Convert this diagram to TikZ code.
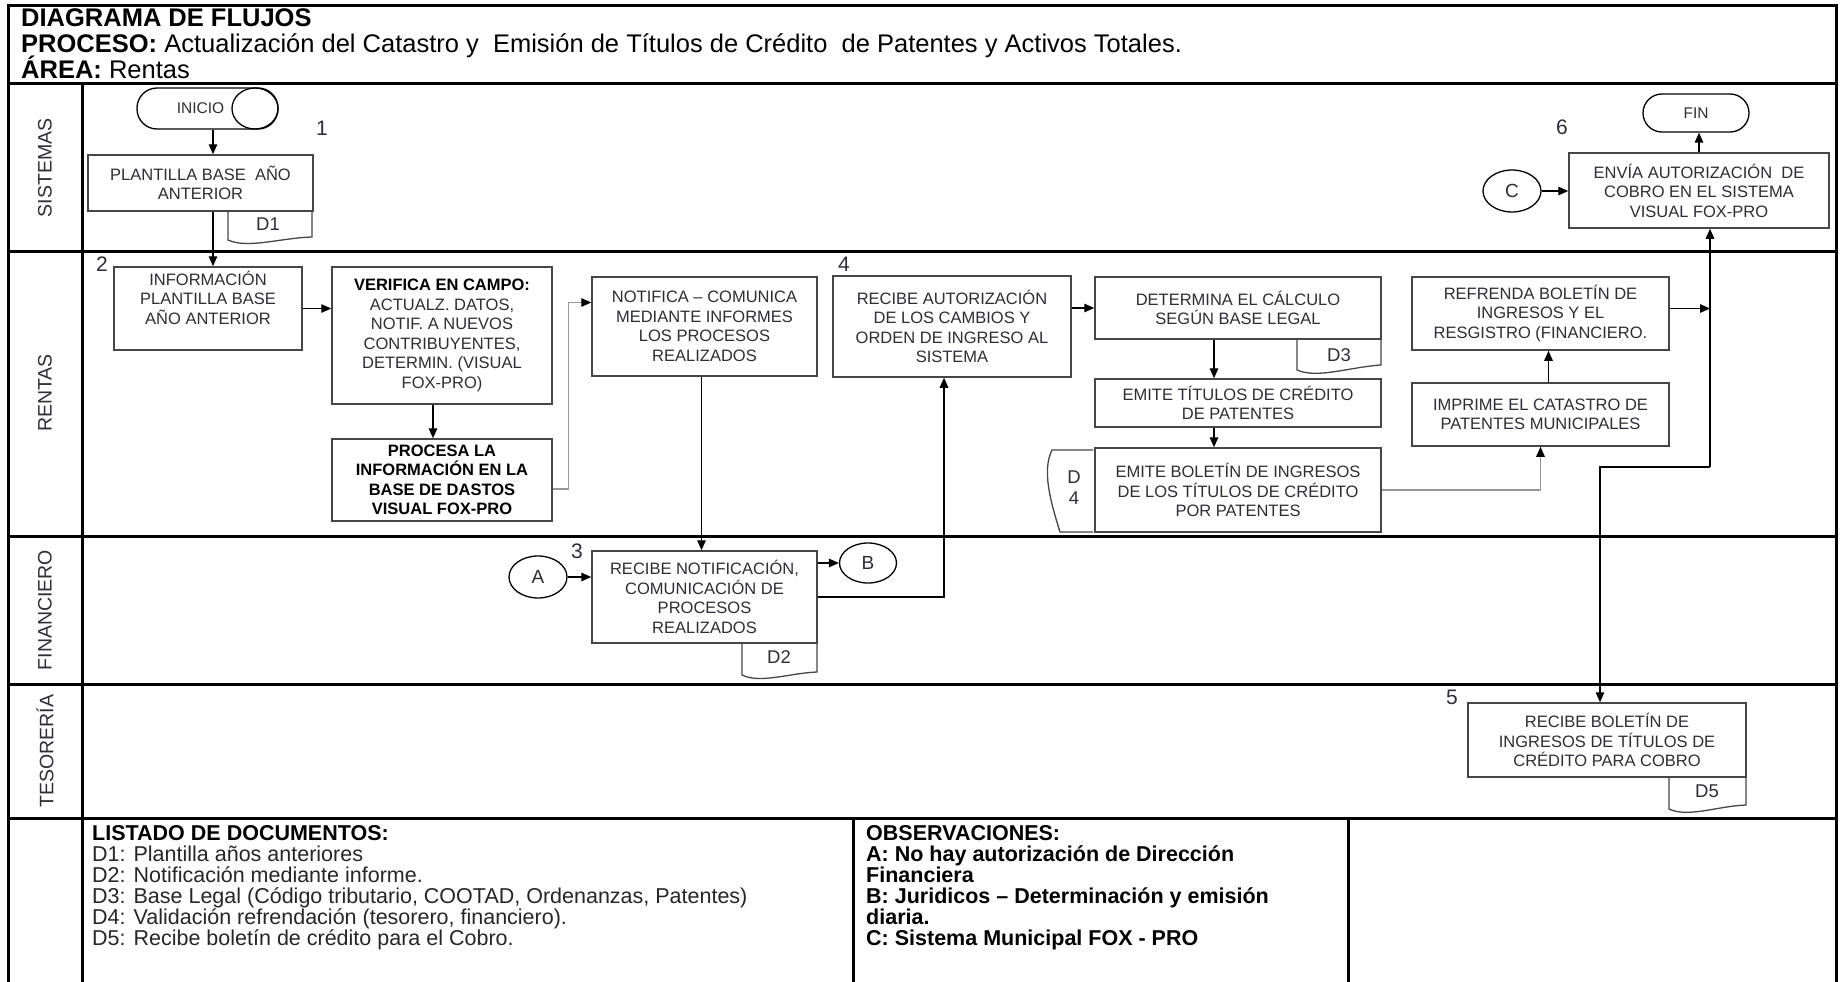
\documentclass[tikz,border=0pt]{standalone}
\usepackage{fontspec}
\setmainfont{Liberation Sans}
\usetikzlibrary{arrows.meta,shapes.geometric}
\definecolor{boxtxt}{RGB}{45,45,55}
\definecolor{boxline}{RGB}{70,70,70}
\definecolor{grayline}{RGB}{150,150,150}
\newcommand{\bxf}{\fontsize{16.5}{19.5}\selectfont}
\begin{document}
\begin{tikzpicture}[x=1pt,y=-1pt,
  lanel/.style={line width=3pt, line cap=rect},
  box/.style={draw=boxline, line width=1.5pt, inner sep=0pt, align=center, text=boxtxt, font=\bxf},
  bbox/.style={box, font=\bxf\bfseries, text=black},
  arr/.style={line width=1.4pt, draw=black, -{Triangle[length=10pt,width=8.5pt]}},
  garr/.style={line width=1.4pt, draw=grayline, -{Triangle[length=10pt,width=8.5pt,color=black]}},
  conn/.style={draw=black, line width=1.3pt, ellipse, inner sep=0pt, text=boxtxt, font=\fontsize{19}{19}\selectfont},
  term/.style={draw=black, line width=1.3pt, inner sep=0pt, text=boxtxt, font=\fontsize{15.5}{16}\selectfont},
  doc/.style={draw=boxline, line width=1.3pt},
  doct/.style={inner sep=0pt, text=boxtxt, font=\fontsize{18.5}{19}\selectfont},
  num/.style={inner sep=0pt, text=boxtxt, font=\fontsize{21}{21}\selectfont},
  lanet/.style={rotate=90, inner sep=0pt, text=boxtxt, font=\fontsize{19.5}{20}\selectfont},
  hdr/.style={anchor=base west, inner sep=0pt, font=\fontsize{25.5}{27}\selectfont},
  btxt/.style={anchor=base west, inner sep=0pt, font=\fontsize{21.5}{21.5}\selectfont, text=black!85},
  bbtxt/.style={anchor=base west, inner sep=0pt, font=\fontsize{21.5}{21.5}\selectfont\bfseries, text=black}
]
\useasboundingbox (0,0) rectangle (1840,982);
\fill[white] (0,0) rectangle (1840,982);

% ---------- frame and lanes ----------
\draw[lanel] (8,6) -- (1836,6);
\draw[lanel] (8,6) -- (8,982);
\draw[lanel] (1836,6) -- (1836,982);
\draw[lanel] (8,84) -- (1836,84);
\draw[lanel] (8,251) -- (1836,251);
\draw[lanel] (8,536) -- (1836,536);
\draw[lanel] (8,684) -- (1836,684);
\draw[lanel] (8,818) -- (1836,818);
\draw[lanel] (82,84) -- (82,982);
\draw[lanel] (853,818) -- (853,982);
\draw[lanel] (1348,818) -- (1348,982);

% ---------- header ----------
\node[hdr] (title) at (21,27) {\bfseries DIAGRAMA DE FLUJOS};
\node[hdr] (proceso) at (21,53) {\textbf{PROCESO:} Actualización del Catastro y~ Emisión de Títulos de Crédito~ de Patentes y Activos Totales.};
\node[hdr] (area) at (21,79) {\textbf{ÁREA:} Rentas};

% ---------- lane labels ----------
\node[lanet] (lsis) at (45,168) {SISTEMAS};
\node[lanet] (lren) at (45,393) {RENTAS};
\node[lanet] (lfin) at (45,610) {FINANCIERO};
\node[lanet] (ltes) at (45,751) {TESORERÍA};

% ---------- step numbers ----------
\node[num] (n1) at (322,128) {1};
\node[num] (n2) at (102,264) {2};
\node[num] (n3) at (577,551) {3};
\node[num] (n4) at (844,264) {4};
\node[num] (n5) at (1452,697) {5};
\node[num] (n6) at (1562,127) {6};

% ---------- terminals ----------
\node[term, rounded corners=20pt, minimum width=141pt, minimum height=41pt] (inicio) at (207.5,108.5) {INICIO\hspace*{14pt}};
\draw[line width=1.3pt] (255,108.5) ellipse [x radius=23pt, y radius=20.5pt];
\node[term, rounded corners=19pt, minimum width=106pt, minimum height=38pt] (fin) at (1696,113) {FIN};

% ---------- connectors (off-page) ----------
\node[conn, minimum width=58pt, minimum height=42pt] (A) at (538,577) {A};
\node[conn, minimum width=57pt, minimum height=40pt] (B) at (868,563) {B};
\node[conn, minimum width=58pt, minimum height=42pt] (C) at (1512,191) {C};

% ---------- documents ----------
\draw[doc] (228,211) -- (228,240) .. controls (248,249) and (280,238) .. (312,237) -- (312,211);
\node[doct] (d1) at (268,224) {D1};
\draw[doc] (742,643) -- (742,675) .. controls (760,684) and (790,673) .. (817,672) -- (817,643);
\node[doct] (d2) at (779,657) {D2};
\draw[doc] (1297,339) -- (1297,370) .. controls (1317,379) and (1350,367) .. (1381,365) -- (1381,339);
\node[doct] (d3) at (1339,355) {D3};
\draw[doc] (1669,777) -- (1669,809) .. controls (1688,818) and (1718,806) .. (1746,805) -- (1746,777);
\node[doct] (d5) at (1707,791) {D5};
\draw[doc] (1093,450) -- (1052,450) .. controls (1042,470) and (1050,500) .. (1060,532) -- (1093,532);
\node[doct] (d4a) at (1074,477) {D};
\node[doct] (d4b) at (1074,498) {4};

% ---------- process boxes ----------
\node[box, minimum width=225pt, minimum height=56pt] (plant) at (200.5,183) {PLANTILLA BASE~ AÑO\\ANTERIOR};
\node[box, minimum width=188pt, minimum height=83pt] (info) at (208,308.5) {INFORMACIÓN\\PLANTILLA BASE\\AÑO ANTERIOR\\[2pt]};
\node[box, minimum width=220pt, minimum height=137pt] (verif) at (442,335.5) {\textbf{\color{black}VERIFICA EN CAMPO:}\\ACTUALZ. DATOS,\\NOTIF. A NUEVOS\\CONTRIBUYENTES,\\DETERMIN. (VISUAL\\FOX-PRO)};
\node[bbox, minimum width=220pt, minimum height=82pt] (proc) at (442,480) {PROCESA LA\\INFORMACIÓN EN LA\\BASE DE DASTOS\\VISUAL FOX-PRO};
\node[box, minimum width=225pt, minimum height=99pt] (notif) at (704.5,326.5) {NOTIFICA – COMUNICA\\MEDIANTE INFORMES\\LOS PROCESOS\\REALIZADOS};
\node[box, minimum width=238pt, minimum height=101pt] (recaut) at (952,326.5) {RECIBE AUTORIZACIÓN\\DE LOS CAMBIOS Y\\ORDEN DE INGRESO AL\\SISTEMA};
\node[box, minimum width=286pt, minimum height=62pt] (determ) at (1238,308) {DETERMINA EL CÁLCULO\\SEGÚN BASE LEGAL};
\node[box, minimum width=286pt, minimum height=48pt] (emtit) at (1238,403) {EMITE TÍTULOS DE CRÉDITO\\DE PATENTES};
\node[box, minimum width=286pt, minimum height=84pt] (embol) at (1238,490) {EMITE BOLETÍN DE INGRESOS\\DE LOS TÍTULOS DE CRÉDITO\\POR PATENTES};
\node[box, minimum width=257pt, minimum height=63pt] (impr) at (1540.5,414.5) {IMPRIME EL CATASTRO DE\\PATENTES MUNICIPALES};
\node[box, minimum width=257pt, minimum height=73pt] (refr) at (1540.5,313.5) {REFRENDA BOLETÍN DE\\INGRESOS Y EL\\RESGISTRO (FINANCIERO.};
\node[box, minimum width=260pt, minimum height=75pt] (envia) at (1699,190.5) {ENVÍA AUTORIZACIÓN~ DE\\COBRO EN EL SISTEMA\\VISUAL FOX-PRO};
\node[box, minimum width=225pt, minimum height=92pt] (recnot) at (704.5,597) {RECIBE NOTIFICACIÓN,\\COMUNICACIÓN DE\\PROCESOS\\REALIZADOS};
\node[box, minimum width=278pt, minimum height=74pt] (tesrec) at (1607,740) {RECIBE BOLETÍN DE\\INGRESOS DE TÍTULOS DE\\CRÉDITO PARA COBRO};

% ---------- flow ----------
\coordinate (x213) at (213,0);
\coordinate (vbot) at (1710,467);
\coordinate (r1) at ([yshift=5pt]refr.east);
\draw[arr] (inicio.south -| x213) -- (plant.north -| x213);
\draw[arr] (plant.south -| x213) -- (info.north -| x213);
\draw[arr] (info.east) -- (info.east -| verif.west);
\draw[arr] ([xshift=-9pt]verif.south) -- ([xshift=-9pt]proc.north);
\draw[garr] ([yshift=-9pt]proc.east) -- ++(16,0) |- ([yshift=24pt]notif.west);
\draw[arr] ([xshift=-3pt]notif.south) -- ([xshift=-3pt]recnot.north);
\draw[arr] (A.east) -- (A.east -| recnot.west);
\draw[arr] (recnot.east |- B.west) -- (B.west);
\draw[arr] (recnot.east) -| ([xshift=-8pt]recaut.south);
\draw[arr] (determ.west -| recaut.east) -- (determ.west);
\draw[arr] ([xshift=-24pt]determ.south) -- ([xshift=-24pt]emtit.north);
\draw[arr] ([xshift=-24pt]emtit.south) -- ([xshift=-24pt]embol.north);
\draw[garr] (embol.east) -| (impr.south);
\draw[arr] ([xshift=8pt]impr.north) -- ([xshift=8pt]refr.south);
\draw[arr] (r1) -- (r1 -| vbot);
\draw[arr] (vbot) -- ([xshift=11pt]envia.south);
\draw[arr] (vbot) -| ([xshift=-7pt]tesrec.north);
\draw[arr] (C.east) -- (C.east -| envia.west);
\draw[arr] (envia.north) -- (envia.north |- fin.south);

% ---------- bottom notes ----------
\node[bbtxt] (l0) at (92,840) {LISTADO DE DOCUMENTOS:};
\node[btxt] (l1) at (92,861) {D1: Plantilla años anteriores};
\node[btxt] (l2) at (92,882) {D2: Notificación mediante informe.};
\node[btxt] (l3) at (92,903) {D3: Base Legal (Código tributario, COOTAD, Ordenanzas, Patentes)};
\node[btxt] (l4) at (92,924) {D4: Validación refrendación (tesorero, financiero).};
\node[btxt] (l5) at (92,945) {D5: Recibe boletín de crédito para el Cobro.};
\node[bbtxt] (o0) at (866,840) {OBSERVACIONES:};
\node[bbtxt] (o1) at (866,861) {A: No hay autorización de Dirección};
\node[bbtxt] (o2) at (866,882) {Financiera};
\node[bbtxt] (o3) at (866,903) {B: Juridicos – Determinación y emisión};
\node[bbtxt] (o4) at (866,924) {diaria.};
\node[bbtxt] (o5) at (866,945) {C: Sistema Municipal FOX - PRO};
\end{tikzpicture}
\end{document}
